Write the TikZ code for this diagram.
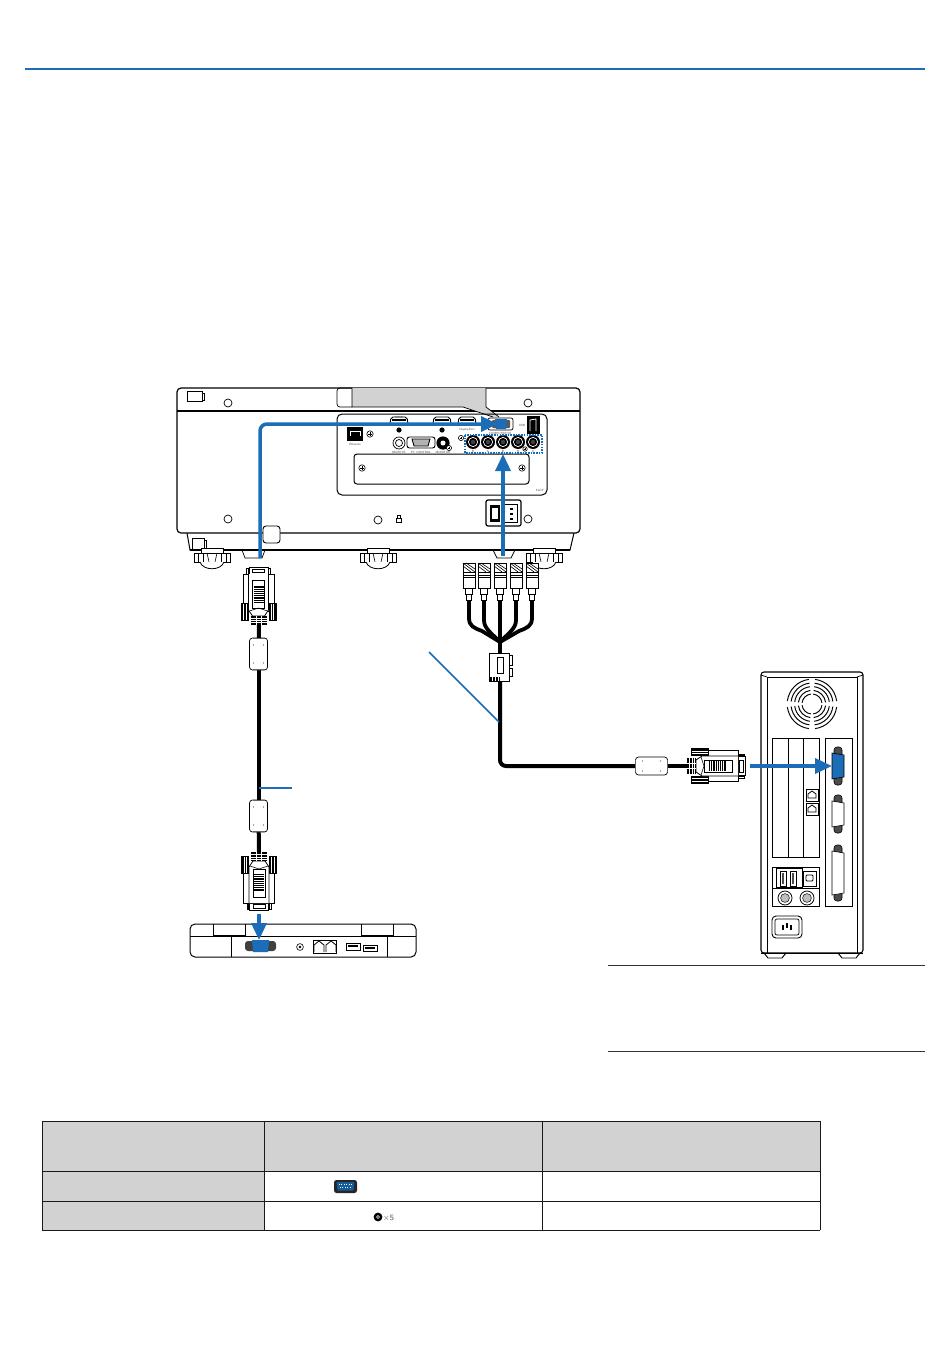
\documentclass[tikz,border=0pt]{standalone}
\usepackage{amsmath}
\usetikzlibrary{arrows.meta}
\usetikzlibrary{calc}

\definecolor{nblue}{HTML}{1A6DB6}
\definecolor{cellgray}{HTML}{D2D2D2}

\tikzset{
  screwhole/.pic={\draw[line width=.7pt, fill=white] (0,0) circle (4);},
  thumbscrew/.pic={
    \draw[line width=.6pt, fill=white] (0,0) circle (3.2);
    \draw[line width=.5pt] (-1.8,0) -- (1.8,0) (0,-1.8) -- (0,1.8);
  },
  % plug, mating end at the origin, cable side towards +y
  vgaplug/.pic={
    \draw[line width=.7pt, fill=white] (-12,1) rectangle (-10.2,9);
    \draw[line width=.7pt, fill=white] (10.2,1) rectangle (12,9);
    \draw[line width=.7pt, fill=white] (-9.5,0) rectangle (9.5,7);
    \draw[line width=.5pt] (-6,2) rectangle (6,5.5);
    \draw[line width=.9pt, fill=white] (-15.5,7) rectangle (15.5,44);
    \fill (-18,36) rectangle (-10,54);
    \fill (10,36) rectangle (18,54);
    \foreach \xx in {-15,-12.5,12.5,15}
      \draw[white, line width=.35pt] (\xx,37) -- (\xx,53);
    \draw[line width=.8pt, fill=white] (-10,7) -- (-10,43) -- (-6,49) -- (6,49) -- (10,43) -- (10,7);
    \draw[line width=.5pt] (-6,13) rectangle (6,41);
    \foreach \yy in {20,22.2,...,37}
      \draw[line width=1.3pt] (-5,\yy) -- (5,\yy);
    \draw[line width=.5pt] (-9,44) -- (0,41) -- (9,44);
    \fill (-8,49) rectangle (8,58);
    \foreach \yy in {51,53.2,55.4}
      \draw[white, line width=.6pt] (-8,\yy) -- (8,\yy);
    \foreach \xx in {-2.5,2.5}
      \draw[white, line width=.5pt] (\xx,49) -- (\xx,58);
  },
  ferrite/.pic={
    \draw[line width=.7pt, fill=white, rounded corners=3pt] (-9,-16) rectangle (9,16);
    \draw[line width=1pt, draw=black!60] (-6,-15.6) -- (6,-15.6) (-6,15.6) -- (6,15.6);
    \foreach \xx in {-5,5} \foreach \yy in {-9,9}
      \fill[black!70] (\xx,\yy) circle (.6);
  },
  bncplug/.pic={
    \draw[line width=.7pt, fill=white] (-6,0) rectangle (6,9);
    \draw[line width=.6pt] (-6,0) -- (6,9) (-3,0) -- (6,6) (-6,3) -- (2,9);
    \draw[line width=.9pt, fill=white] (-6,9) rectangle (6,25);
    \draw[line width=.5pt] (-6,12) -- (6,12) (-6,14) -- (6,14);
    \draw[line width=.8pt, fill=white] (-3.5,25) rectangle (3.5,31);
    \draw[line width=.8pt, fill=white] (-2.5,31) rectangle (2.5,37);
  },
  foot/.pic={
    \draw[line width=.7pt, fill=white] (-11,-5) rectangle (11,0);
    \draw[line width=.8pt, fill=white] (-18,0) rectangle (18,9);
    \foreach \xx in {-14,-9,9,14}
      \draw[line width=.6pt] (\xx,0) -- (\xx,9);
    \draw[line width=.6pt] (-5,0) -- (-3,9) (5,0) -- (3,9);
    \draw[line width=.8pt, fill=white] (-12,9) .. controls (-9,18) and (9,18) .. (12,9);
  },
  bncport/.pic={
    \fill (0,0) circle (7);
    \draw[white, line width=.7pt] (0,0) circle (4.6);
    \fill[black!75] (0,0) circle (2.2);
  },
  hdport/.pic={
    \draw[line width=.9pt, rounded corners=2pt] (-9,4) -- (-8,-3) -- (8,-3) -- (9,4);
    \draw[line width=1.4pt] (-7,0) -- (7,0);
  },
  rjjack/.pic={
    \draw[line width=.7pt, fill=white] (-6,-6) rectangle (6,6);
    \draw[line width=.8pt] (-4,3) -- (-4,-1) -- (0,-4) -- (4,-1) -- (4,3) -- cycle;
  },
  dsub/.pic={
    \draw[line width=.6pt, fill=black!70, rounded corners=3pt] (-4,-\dsubh) rectangle (4,\dsubh);
    \draw[line width=.6pt, fill=\dsubc] (-6,-\dsubi) -- (6,-\dsubi+2) -- (6,\dsubi-2) -- (-6,\dsubi) -- cycle;
  },
  blueleader/.style={draw=nblue, line width=1.5pt},
  blueflow/.style={draw=nblue, line width=3.5pt, -{Triangle[length=17pt,width=15pt]}},
  cable/.style={line width=4pt, line join=round, rounded corners=6pt},
  tinytxt/.style={font=\sffamily\fontsize{3}{3}\selectfont, text=black!75, inner sep=0pt}
}

\begin{document}
\begin{tikzpicture}[x=1pt, y=-1pt, line cap=butt]

        \useasboundingbox (0,0) rectangle (950,1367);
        \fill[white] (0,0) rectangle (950,1367);

        % page rule
        \draw[nblue, line width=2pt] (25,69) -- (925,69);

        % projector
        \draw[line width=1pt, fill=white] (187,533) -- (190,550) -- (570,550) -- (574,533);
        \draw[line width=1.2pt, rounded corners=4pt, fill=white] (177,533) -- (177,388) -- (580,388) -- (580,533) -- cycle;
        \draw[line width=1.5pt] (177,411) -- (580,411);
        \draw[line width=1.6pt] (190,550) -- (570,550);

        \fill[cellgray] (352,388) rectangle (486,407);
        \fill[cellgray] (463,407) -- (486,407) -- (499,417) -- (493,417) -- cycle;
        \draw[line width=.7pt, rounded corners=3pt] (352,388) -- (337,388) -- (337,407) -- (352,407);
        \draw[line width=.7pt] (352,388) -- (352,407) -- (463,407) -- (493,417);
        \draw[line width=.7pt] (486,388) -- (486,407) -- (499,417);
        \draw[line width=.8pt, fill=white] (187,391) rectangle (202,401);
        \draw[line width=.8pt] (202,393) -- (204,393) -- (204,400) -- (202,400);

        \foreach \xx/\yy in {228/403, 528/403, 228/519, 378/520, 528/519}
          \pic at (\xx,\yy) {screwhole};

        \draw[line width=1pt, rounded corners=5pt] (337,414) rectangle (547,495);
        \draw[line width=1pt, rounded corners=3pt] (354,454) rectangle (529,484);
        \foreach \xx in {362,522}
          \pic at (\xx,468) {thumbscrew};

        % connectors on the panel
        \foreach \xx in {399,442,467}
          \pic at (\xx,420) {hdport};
        \foreach \xx in {399,442}
          \fill (\xx,430) circle (2.6);
        \draw[line width=.7pt, rounded corners=2pt, fill=white] (488,418) rectangle (513,430);
        \fill[black!65, rounded corners=1pt] (492,420) rectangle (510,428);
        \fill[nblue] (495,419) -- (507,419) -- (506,429) -- (496,429) -- cycle;
        \fill (347,427) rectangle (363,441);
        \draw[white, line width=.8pt] (350,436) -- (350,431) -- (360,431) -- (360,436);
        \pic at (370,434) {thumbscrew};
        \draw[line width=.7pt, fill=white] (399,443) circle (6);
        \draw[line width=.7pt] (399,443) circle (3.5);
        \draw[line width=.9pt, rounded corners=2.5pt, fill=white] (407,437) rectangle (435,448);
        \draw[line width=.9pt, fill=black!30] (412,439) -- (430,439) -- (428,446) -- (414,446) -- cycle;
        \fill (443,443) circle (6.6);
        \fill[white] (443,443) circle (2.5);
        \pic[scale=.8] at (449,448) {thumbscrew};
        \pic[scale=.8] at (461,438) {thumbscrew};
        \draw[line width=.9pt, fill=black] (527,416) rectangle (539,433);
        \draw[white, line width=.8pt] (530,431) -- (530,420) -- (536,419) -- (536,431);

        \foreach \xx in {473,488,503,518,533}
          \pic at (\xx,442) {bncport};
        \pic[scale=.7] at (525,449) {thumbscrew};
        \draw[nblue, line width=1.1pt, dash pattern=on 1.6pt off 1.1pt] (465,435) rectangle (542,453);

        \foreach \xx/\yy/\txt [count=\i] in {
            355/444/Ethernet, 399/452/REMOTE, 421/452/PC CONTROL, 443/452/MONITOR,
            399/417/HDMI, 467/430/DisplayPort, 500/433/COMPUTER IN, 522/425/USB,
            473/451/R/Cr/CV, 488/451/G/Y, 503/451/B/Cb, 518/451/H, 533/451/V, 540/490/SLOT}
          \node[tinytxt] (lbl\i) at (\xx,\yy) {\txt};

        % power inlet and lock
        \draw[line width=1.2pt, rounded corners=2pt, fill=white] (486,500) rectangle (521,526);
        \fill (490,505) rectangle (500,522);
        \fill[white] (492,508) rectangle (498,519);
        \draw[line width=.9pt] (503,504) -- (517,504) -- (517,522) -- (503,522) -- (503,504);
        \foreach \yy in {508,513,518}
          \fill (510,\yy) rectangle (513,\yy+2);
        \draw[line width=.6pt] (396,518) rectangle (401,522);
        \draw[line width=.6pt] (397,518) -- (397,515) -- (400,515) -- (400,518);

        % lower edge of the projector
        \draw[line width=.9pt, fill=white, rounded corners=3pt] (263,526) rectangle (280,543);
        \draw[line width=.7pt, fill=white] (192,538) rectangle (204,549);
        \draw[line width=.7pt] (204,540) -- (206,540) -- (206,548) -- (204,548);
        \draw[line width=.7pt] (242,550) -- (245,558) -- (262,558) -- (265,550);
        \draw[line width=.7pt] (493,550) -- (497,558) -- (511,558) -- (515,550);
        \pic at (212,553) {foot};
        \pic at (378,553) {foot};
        \pic at (544,553) {foot};

        % cables
        \coordinate (plugtop) at (259,625);
        \coordinate (ferritea) at (258.5,654);
        \coordinate (ferriteb) at (258.5,816);
        \coordinate (plugbot) at (259,852);
        \coordinate (bundle) at (500,642);
        \coordinate (split) at (500,667);
        \coordinate (ferritec) at (651.5,766);
        \coordinate (plugpc) at (688,766);

        \draw[cable] (plugtop) -- (ferritea);
        \draw[cable] (ferritea) -- (ferriteb);
        \draw[cable] (ferriteb) -- (plugbot);
        \draw[cable] (bundle) -- (split);
        \draw[cable] (split) -- (500,766) -- (ferritec);
        \draw[cable, rounded corners=0pt] (ferritec) -- (plugpc);

        \foreach \xx [count=\i] in {469,484,500,516,532}
          \coordinate (bnc\i) at (\xx,563);
        \draw[cable, rounded corners=0pt] (bnc3) -- (bundle);
        \draw[line width=3.8pt] ($(bnc1)+(0,36)$) -- (469,618) .. controls (469,626) and (474,628) .. (482,631) -- (bundle);
        \draw[line width=3.8pt] ($(bnc2)+(0,36)$) -- (484,620) .. controls (484,628) and (490,632) .. (bundle);
        \draw[line width=3.8pt] ($(bnc4)+(0,36)$) -- (516,620) .. controls (516,628) and (510,632) .. (bundle);
        \draw[line width=3.8pt] ($(bnc5)+(0,36)$) -- (532,618) .. controls (532,626) and (527,628) .. (519,631) -- (bundle);
        \foreach \i in {1,...,5}
          \pic at (bnc\i) {bncplug};

        % Y splitter
        \draw[line width=.8pt, fill=white] (509,655) rectangle (512,665);
        \draw[line width=.8pt, fill=white] (509,668) rectangle (512,676);
        \draw[line width=.9pt, fill=white] (489,653) rectangle (509,681);
        \draw[line width=.8pt] (497,657) rectangle (503,673);
        \fill (489,677) rectangle (500,681);
        \foreach \xx in {492,495,498}
          \draw[white, line width=.5pt] (\xx,677) -- (\xx,681);

        % plugs and ferrites
        \pic at (258.5,567) {vgaplug};
        \pic at (259,910) [rotate=180] {vgaplug};
        \pic at (745,766) [rotate=-90] {vgaplug};
        \pic at (ferritea) {ferrite};
        \pic at (ferriteb) {ferrite};
        \pic at (ferritec) [rotate=90] {ferrite};

        % laptop
        \draw[line width=1pt, fill=white, rounded corners=5pt] (190,957) -- (190,924) -- (416,924) -- (416,957) -- cycle;
        \draw[line width=.8pt] (190,936) -- (416,936);
        \draw[line width=.8pt] (213,924) -- (213,935) -- (245,935) -- (245,924);
        \draw[line width=.8pt] (361,924) -- (361,935) -- (393,935) -- (393,924);
        \draw[line width=.8pt] (231,936) -- (231,957) (387,936) -- (387,957);
        \fill[black!75, rounded corners=3pt] (245,941) rectangle (276,951);
        \fill[nblue] (252,940) -- (269,940) -- (268,952) -- (253,952) -- cycle;
        \draw[line width=.6pt] (300,947) circle (3.4);
        \fill (300,947) circle (1.3);
        \draw[line width=.8pt] (313,940) rectangle (336,953);
        \foreach \xx in {319,331}
          \draw[line width=.8pt] (\xx-5,952) -- (\xx-5,945) -- (\xx,941) -- (\xx+5,945) -- (\xx+5,952);
        \draw[line width=.9pt] (346,943) rectangle (360,950);
        \fill (348,944.5) rectangle (358,946.5);
        \draw[line width=.9pt] (363,945) rectangle (377,951);
        \fill (365,946.5) rectangle (375,948.5);

        % computer
        \draw[line width=1.1pt, fill=white, rounded corners=3pt] (761,953) -- (761,672) -- (863,672) -- (863,953) -- cycle;
        \draw[line width=.7pt] (767,953) -- (767,677) -- (857,677) -- (857,953);
        \draw[line width=.7pt] (761,675) -- (767,677) (863,675) -- (857,677);
        \draw[line width=.9pt] (764,953) -- (768,958) -- (782,958) -- (786,953);
        \draw[line width=.9pt] (838,953) -- (842,958) -- (856,958) -- (860,953);
        \draw[line width=.7pt] (761,953) -- (863,953);

        \coordinate (fan) at (812,704);
        \foreach \a in {0,90,180,270}
          \foreach \r in {10,13.7,17.4,21,24.8}
            \draw[line width=.95pt] ($(fan)+(\a+7:\r pt)$) arc[start angle=\a+7, end angle=\a+83, radius=\r pt];

        \draw[line width=.8pt] (772,738) rectangle (819,857);
        \draw[line width=.7pt] (788,738) -- (788,857) (803,738) -- (803,857);
        \pic at (812,795) {rjjack};
        \pic at (812,809) {rjjack};
        \draw[line width=.8pt] (825,738) rectangle (852,906);

        \def\dsubh{19} \def\dsubi{13} \def\dsubc{nblue}
        \pic at (838,766) {dsub};
        \def\dsubc{white}
        \pic at (838,814) {dsub};
        \def\dsubh{28} \def\dsubi{22}
        \pic at (838,873) {dsub};

        \draw[line width=.8pt] (772,867) rectangle (819,906);
        \draw[line width=.7pt] (772,888) -- (819,888);
        \draw[line width=.7pt] (776,868) rectangle (802,887);
        \foreach \xx in {783,793} {
          \draw[line width=.7pt] (\xx-3,871) rectangle (\xx+3,886);
          \fill[black!70] (\xx-1,873) rectangle (\xx+1,884);
        }
        \draw[line width=.7pt] (803,871) rectangle (816,886);
        \draw[line width=.9pt, rounded corners=1pt] (806,875) rectangle (813,881);
        \foreach \xx in {785,807} {
          \draw[line width=.8pt] (\xx,898) circle (7);
          \draw[line width=.5pt, fill=black!25] (\xx,898) circle (4.4);
        }
        \draw[line width=.9pt, rounded corners=4pt] (772,916) rectangle (802,938);
        \draw[line width=.7pt, rounded corners=2pt] (775,919) rectangle (799,935);
        \fill (782,925) rectangle (784,930);
        \fill (786,923) rectangle (788,928);
        \fill (790,925) rectangle (792,930);

        % blue arrows
        \coordinate (portvga) at (498,424);
        \coordinate (portbnc) at (503,454);
        \coordinate (portlap) at (259,940);
        \coordinate (portpc) at (832,766);

        \draw[blueflow, rounded corners=7pt] (260,558) -- (260,424) -- (portvga);
        \draw[blueflow] (503,556) -- (portbnc);
        \draw[blueflow] (259,914) -- (portlap);
        \draw[blueflow] (750,766) -- (portpc);

        % leader lines
        \coordinate (leadera) at (429,652);
        \coordinate (leaderb) at (292,788);
        \draw[blueleader] (leadera) -- (499,722);
        \draw[blueleader] (leaderb) -- (259,788);

        % note rules
        \draw[black!80, line width=.8pt] (608,965) -- (925,965);
        \draw[black!80, line width=.8pt] (608,1051) -- (925,1051);

        % table
        \fill[cellgray] (42,1121) rectangle (820,1171);
        \fill[cellgray] (42,1171) rectangle (264,1230);
        \foreach \yy in {1121,1171,1201,1230}
          \draw[line width=1pt, black!90] (42,\yy) -- (820,\yy);
        \draw[line width=.7pt, black!90] (42,1121) -- (42,1230);
        \draw[line width=.7pt, black!90] (264,1121) -- (264,1230);
        \draw[line width=.7pt, black!90] (542,1121) -- (542,1230);
        \draw[line width=.7pt, black!90] (820,1121) -- (820,1230);

        \fill[black!85, rounded corners=2.5pt] (334,1180) rectangle (357,1193);
        \fill[nblue!85!black, rounded corners=1pt] (336.5,1182) -- (354.5,1182) -- (353.5,1190.5) -- (337.5,1190.5) -- cycle;
        \draw[white, line width=.4pt, dotted] (339,1184.5) -- (352,1184.5) (340,1187.5) -- (351,1187.5);

        \fill (378,1217) circle (4.4);
        \fill[white] (378,1217) circle (1.8);
        \fill (378,1217) circle (.9);
        \node[font=\sffamily\fontsize{8}{8}\selectfont, text=black!70, inner sep=0pt, anchor=west] (times) at (383,1218) {$\times$5};

      \end{tikzpicture}
\end{document}
